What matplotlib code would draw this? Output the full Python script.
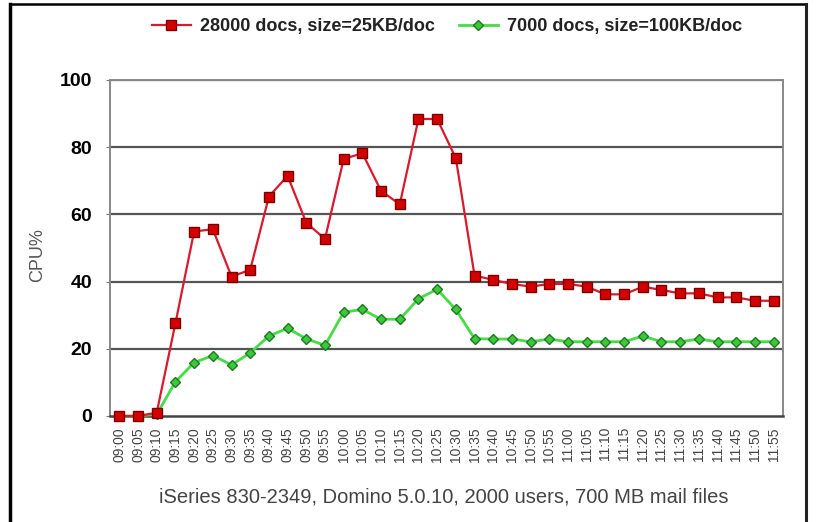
import matplotlib
matplotlib.use("Agg")
import matplotlib.pyplot as plt
from matplotlib.lines import Line2D

# Time stamps (5-minute samples)
times = ["09:00", "09:05", "09:10", "09:15", "09:20", "09:25", "09:30", "09:35",
         "09:40", "09:45", "09:50", "09:55", "10:00", "10:05", "10:10", "10:15",
         "10:20", "10:25", "10:30", "10:35", "10:40", "10:45", "10:50", "10:55",
         "11:00", "11:05", "11:10", "11:15", "11:20", "11:25", "11:30", "11:35",
         "11:40", "11:45", "11:50", "11:55"]

# CPU% for 28000 docs at 25KB/doc
cpu_small_docs = [0, 0, 1, 27.6, 54.9, 55.6, 41.5, 43.5,
                  65.3, 71.5, 57.5, 52.7, 76.5, 78.2, 67, 63,
                  88.4, 88.4, 76.7, 41.8, 40.5, 39.3, 38.5, 39.3,
                  39.3, 38.5, 36.2, 36.2, 38.5, 37.5, 36.5, 36.5,
                  35.3, 35.3, 34.3, 34.3]

# CPU% for 7000 docs at 100KB/doc
cpu_large_docs = [0, 0, 0.5, 10.2, 15.9, 18, 15.2, 18.8,
                  23.8, 26.1, 23, 21, 30.9, 31.7, 28.8, 28.8,
                  34.9, 37.7, 31.7, 23, 22.9, 22.9, 22.1, 22.9,
                  22.1, 22.1, 22.1, 22.1, 23.8, 22.1, 22.1, 22.9,
                  22.1, 22.1, 22.1, 22.1]

series_labels = ["28000 docs, size=25KB/doc", "7000 docs, size=100KB/doc"]
y_ticks = [0, 20, 40, 60, 80, 100]
x_title = "iSeries 830-2349, Domino 5.0.10, 2000 users, 700 MB mail files"
y_title = "CPU%"

plt.rcParams["font.family"] = ["Liberation Sans", "DejaVu Sans"]

fig = plt.figure(figsize=(8.3, 5.22), dpi=100)
fig.patch.set_facecolor("white")
ax = fig.add_axes([110 / 830, 1 - 416 / 522, (783 - 110) / 830, (416 - 80) / 522])

x = list(range(len(times)))
ax.plot(x, cpu_small_docs, color="#d8192e", lw=1.6, marker="s", ms=7.5,
        mfc="#d40000", mec="#7a0000", mew=1.0, zorder=4, clip_on=False,
        label=series_labels[0])
ax.plot(x, cpu_large_docs, color="#45dc45", lw=2.0, marker="D", ms=5.5,
        mfc="#3cc83c", mec="#1e7a1e", mew=1.0, zorder=3, clip_on=False,
        label=series_labels[1])

ax.set_xlim(-0.5, len(times) - 0.5)
ax.set_ylim(0, 100)
ax.set_yticks(y_ticks)
ax.set_yticklabels([str(v) for v in y_ticks], fontsize=14, fontweight="bold")
ax.set_xticks(x)
ax.set_xticklabels(times, rotation=90, fontsize=10, color="#444444")
ax.tick_params(axis="x", length=0, pad=8)
ax.tick_params(axis="y", length=3, color="#777777", pad=10)

for v in y_ticks[1:]:
    ax.axhline(v, color="#555555", lw=1.6, zorder=1)

for side in ["left", "right", "top", "bottom"]:
    ax.spines[side].set_color("#888888")
    ax.spines[side].set_linewidth(1.4)
ax.spines["bottom"].set_color("#444444")
ax.spines["bottom"].set_linewidth(1.8)

fig.text(38 / 830, 1 - 255 / 522, y_title, rotation=90, ha="center", va="center",
         fontsize=13, color="#555555")
fig.text(444 / 830, 1 - 497 / 522, x_title, ha="center", va="center",
         fontsize=14.5, color="#444444")

fig.legend(loc="center", bbox_to_anchor=(447 / 830, 1 - 27 / 522), ncol=2,
           frameon=False, handlelength=2.2, columnspacing=1.3, handletextpad=0.5,
           prop={"size": 13, "weight": "bold"}, labelcolor="#222222")

# outer frame
fig.add_artist(Line2D([10 / 830, 10 / 830], [0, 1 - 4 / 522], color="black", lw=2.5,
                      transform=fig.transFigure))
fig.add_artist(Line2D([10 / 830, 806 / 830], [1 - 4 / 522, 1 - 4 / 522], color="black",
                      lw=1.8, transform=fig.transFigure))
fig.add_artist(Line2D([806 / 830, 806 / 830], [0, 1 - 4 / 522], color="#222222", lw=2.2,
                      transform=fig.transFigure))

fig.savefig("out.png", dpi=100, facecolor="white")
